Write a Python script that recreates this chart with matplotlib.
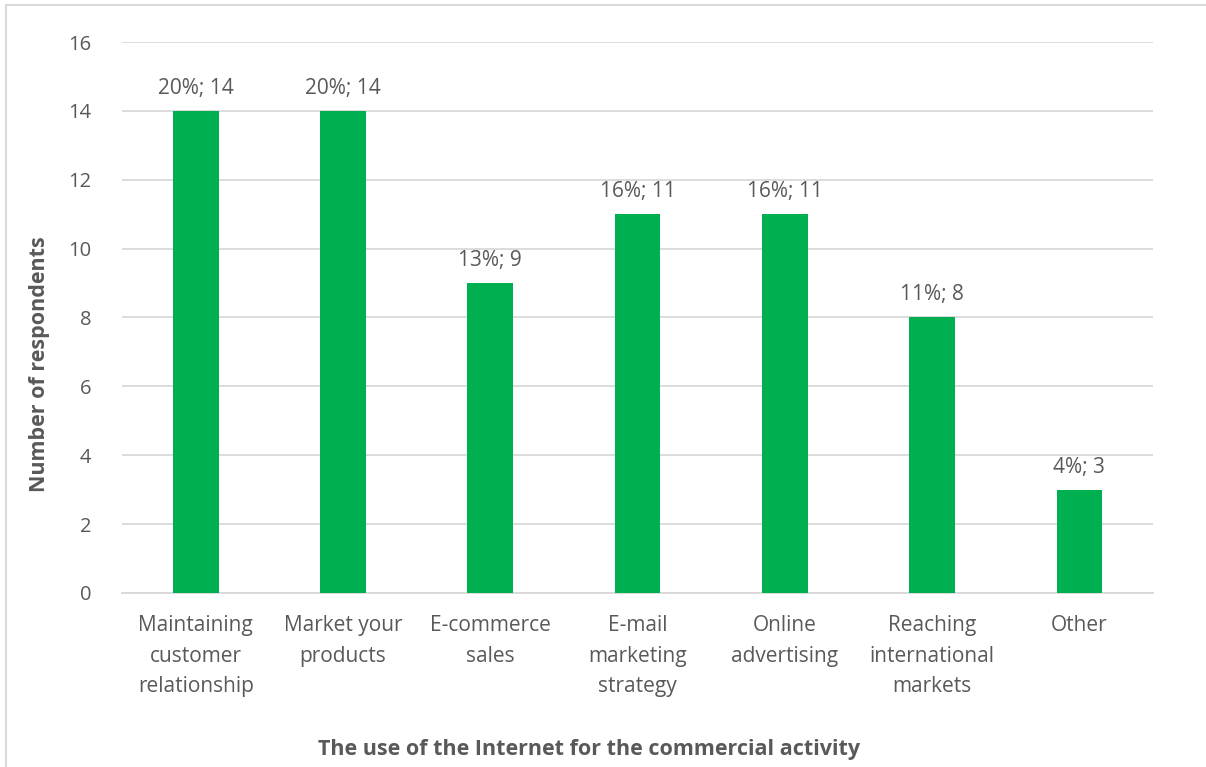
import matplotlib.pyplot as plt
from matplotlib.patches import Rectangle

categories = ['Maintaining\ncustomer\nrelationship', 'Market your\nproducts', 'E-commerce\nsales',
              'E-mail\nmarketing\nstrategy', 'Online\nadvertising', 'Reaching\ninternational\nmarkets', 'Other']
respondents = [14, 14, 9, 11, 11, 8, 3]
y_ticks = [0, 2, 4, 6, 8, 10, 12, 14, 16]

total = sum(respondents)
labels = ['%d%%; %d' % (round(v * 100 / total), v) for v in respondents]

plt.rcParams['font.family'] = ['Open Sans', 'DejaVu Sans']
text_color = '#595959'

fig = plt.figure(figsize=(12.06, 7.67), dpi=100)
ax = fig.add_axes([0.1012, 0.2269, 0.8549, 0.7183])

# chart area border
fig.patches.append(Rectangle((6 / 1206, -0.1), 1.2, 1 - 5 / 767 + 0.1, transform=fig.transFigure,
                             fill=False, edgecolor='#d9d9d9', linewidth=1.5))

x = range(len(categories))
bars = ax.bar(x, respondents, width=0.31, color='#00b050', zorder=3)
for b, lab in zip(bars, labels):
    ax.text(b.get_x() + b.get_width() / 2, b.get_height() + 0.35, lab, ha='center', va='bottom',
            fontsize=15, color=text_color)

ax.set_xlim(-0.5, len(categories) - 0.5)
ax.set_ylim(0, 16)
ax.set_yticks(y_ticks)
ax.grid(axis='y', color='#d9d9d9', linewidth=1.3, zorder=0)
ax.set_xticks(list(x))
ax.set_xticklabels(categories, fontsize=15, color=text_color, linespacing=1.6)
ax.tick_params(axis='y', labelsize=14.5, labelcolor=text_color, length=0, pad=22)
ax.tick_params(axis='x', length=0, pad=16)
for s in ['top', 'right', 'left']:
    ax.spines[s].set_visible(False)
ax.spines['bottom'].set_color('#d9d9d9')
ax.spines['bottom'].set_linewidth(1.3)

ax.set_ylabel('Number of respondents', fontsize=15.5, fontweight='bold', color=text_color)
ax.yaxis.set_label_coords(-0.070, 0.4156)
fig.text(0.4888, 1 - 749 / 767, 'The use of the Internet for the commercial activity', ha='center', va='center',
         fontsize=15.5, fontweight='bold', color=text_color)

fig.savefig('out.png', dpi=100, facecolor='white')
